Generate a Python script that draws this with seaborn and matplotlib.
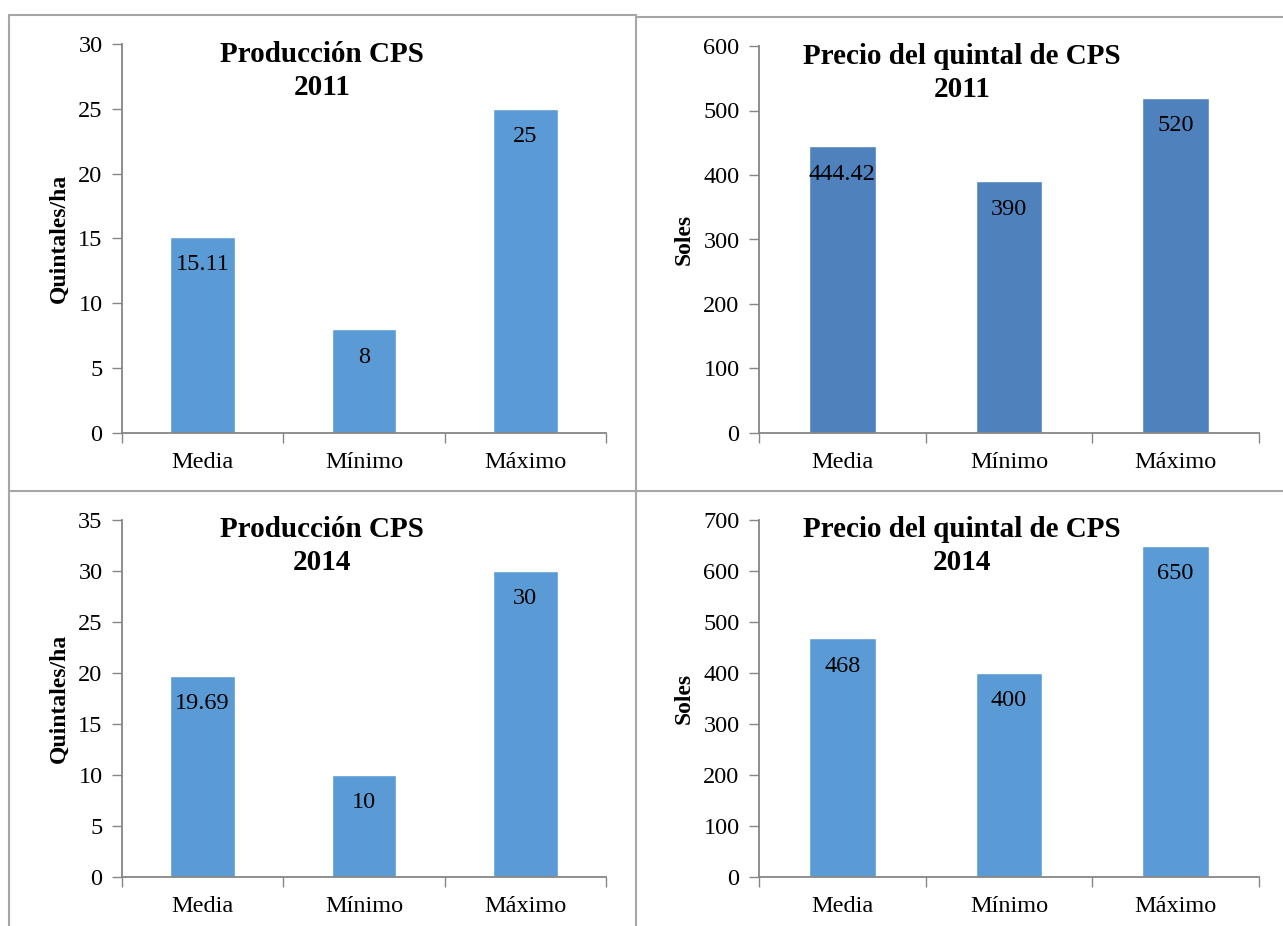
import matplotlib
matplotlib.use("Agg")
import matplotlib.pyplot as plt
from matplotlib.lines import Line2D
from matplotlib.ticker import FixedLocator, NullFormatter
import seaborn as sns

# Data
categories = ["Media", "Mínimo", "Máximo"]
produccion_2011 = [15.11, 8, 25]
precio_2011 = [444.42, 390, 520]
produccion_2014 = [19.69, 10, 30]
precio_2014 = [468, 400, 650]

labels_prod_2011 = ["15.11", "8", "25"]
labels_precio_2011 = ["444.42", "390", "520"]
labels_prod_2014 = ["19.69", "10", "30"]
labels_precio_2014 = ["468", "400", "650"]

sns.set_theme(style="white")
plt.rcParams["font.family"] = ["Liberation Serif", "DejaVu Serif"]
plt.rcParams["text.color"] = "black"
plt.rcParams["axes.labelcolor"] = "black"
plt.rcParams["xtick.labelcolor"] = "black"
plt.rcParams["ytick.labelcolor"] = "black"

W, H = 1283, 926
fig = plt.figure(figsize=(W / 100, H / 100), dpi=100)
fig.patch.set_facecolor("white")

AXIS_GRAY = "#868686"
BLUE = "#5B9BD5"
BLUE_DARK = "#4F81BD"


def px_axes(left, right, top, bottom):
    return fig.add_axes([left / W, 1 - bottom / H, (right - left) / W, (bottom - top) / H])


def panel(ax, values, labels, color, ymax, step, ylabel, title, title_x_px, title_y_px):
    sns.barplot(x=categories, y=values, color=color, saturation=1, width=0.4, ax=ax)
    ax.set_xlim(-0.5, 2.5)
    ax.set_ylim(0, ymax)
    ax.set_yticks(range(0, ymax + 1, step))
    ax.tick_params(axis="y", labelsize=17.5, length=7, width=1, color=AXIS_GRAY, pad=7,
                   direction="out", left=True, labelcolor="black")
    ax.tick_params(axis="x", which="major", labelsize=17.5, length=0, pad=14,
                   labelcolor="black")
    ax.xaxis.set_minor_locator(FixedLocator([-0.5, 0.5, 1.5, 2.5]))
    ax.xaxis.set_minor_formatter(NullFormatter())
    ax.tick_params(axis="x", which="minor", length=7, width=1, color=AXIS_GRAY,
                   direction="out", bottom=True)
    for s in ("top", "right"):
        ax.spines[s].set_visible(False)
    for s in ("left", "bottom"):
        ax.spines[s].set_color(AXIS_GRAY)
        ax.spines[s].set_linewidth(1.3)
    ax.set_xlabel("")
    ax.set_ylabel(ylabel, fontsize=17, fontweight="bold", labelpad=6, color="black")
    for i, (v, lab) in enumerate(zip(values, labels)):
        ax.annotate(lab, xy=(i, v), xytext=(0, -20), textcoords="offset points",
                    ha="center", va="center", fontsize=17.5, color="black")
    fig.text(title_x_px / W, 1 - title_y_px / H, title, ha="center", va="center",
             fontsize=21, fontweight="bold", linespacing=1.3, color="black")
    ax.set_facecolor("white")


ax1 = px_axes(122, 606, 44, 433)
panel(ax1, produccion_2011, labels_prod_2011, BLUE, 30, 5, "Quintales/ha",
      "Producción CPS\n2011", 322, 71)

ax2 = px_axes(759, 1259, 46, 433)
panel(ax2, precio_2011, labels_precio_2011, BLUE_DARK, 600, 100, "Soles",
      "Precio del quintal de CPS\n2011", 962, 73)

ax3 = px_axes(122, 606, 520, 877)
panel(ax3, produccion_2014, labels_prod_2014, BLUE, 35, 5, "Quintales/ha",
      "Producción CPS\n2014", 322, 546)

ax4 = px_axes(759, 1259, 520, 877)
panel(ax4, precio_2014, labels_precio_2014, BLUE, 700, 100, "Soles",
      "Precio del quintal de CPS\n2014", 962, 546)

# Table cell borders around the four charts
BORDER = "#A6A6A6"


def hline(y, x0, x1):
    fig.add_artist(Line2D([x0 / W, x1 / W], [1 - y / H, 1 - y / H], color=BORDER, lw=1.5))


def vline(x, y0, y1):
    fig.add_artist(Line2D([x / W, x / W], [1 - y0 / H, 1 - y1 / H], color=BORDER, lw=1.5))


hline(15, 9, 636)
hline(17, 636, W)
hline(491, 9, W)
vline(9, 15, H)
vline(636, 15, H)

fig.savefig("out.png", dpi=100, facecolor="white")
